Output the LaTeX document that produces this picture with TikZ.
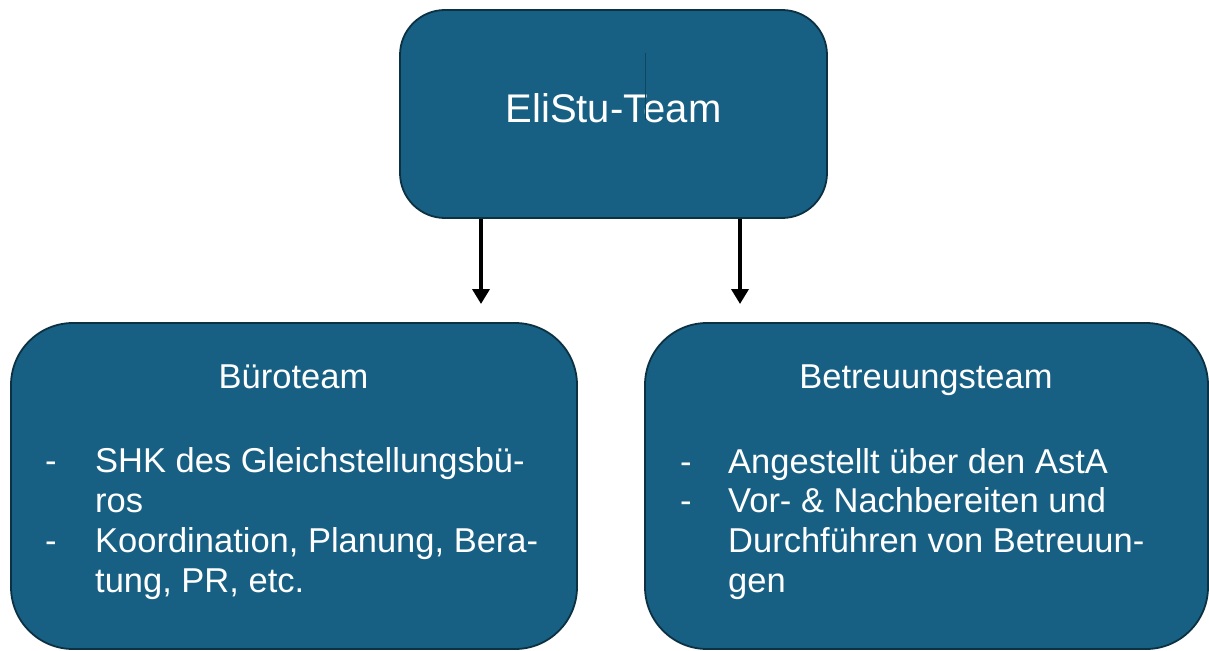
\documentclass[tikz,border=0pt]{standalone}
\usepackage{fontspec}
\setmainfont{Liberation Sans}
\usetikzlibrary{arrows.meta}
\definecolor{boxfill}{HTML}{176084}
\definecolor{boxline}{HTML}{0B3142}
\definecolor{cursor}{HTML}{0E4660}
\tikzset{
  teambox/.style={draw=boxline, line width=1.8pt, fill=boxfill},
  boxtext/.style={inner sep=0pt, text=white, font=\fontsize{34.5}{40}\selectfont},
  conn/.style={line width=3.6pt, -{Triangle[width=17pt,length=15pt]}},
}
\begin{document}
\begin{tikzpicture}[x=1pt,y=-1pt]
\useasboundingbox (0,0) rectangle (1209,650);
\begin{scope}
\clip (0,0) rectangle (1209,650);
% boxes
\draw[teambox, rounded corners=45pt] (400,10) rectangle (827,218);
\draw[teambox, rounded corners=62pt] (11,323) rectangle (577,649);
\draw[teambox, rounded corners=62pt] (645,323) rectangle (1208,649);
\end{scope}
\node[boxtext, anchor=base, font=\fontsize{40}{48}\selectfont] (title) at (613.5,122) {EliStu-Team};
\draw[cursor, line width=0.8pt] (645,53) -- (645,120);
% left box
\node[boxtext, anchor=base] (buero) at (293.5,388) {Büroteam};
\node[boxtext, anchor=base west] (b1) at (45,472) {-};
\node[boxtext, anchor=base west] (b1t) at (95,472) {SHK des Gleichstellungsbü-};
\node[boxtext, anchor=base west] (b1u) at (95,512) {ros};
\node[boxtext, anchor=base west] (b2) at (45,552) {-};
\node[boxtext, anchor=base west] (b2t) at (95,552) {Koordination, Planung, Bera-};
\node[boxtext, anchor=base west] (b2u) at (95,592) {tung, PR, etc.};
% right box
\node[boxtext, anchor=base] (betr) at (926,388) {Betreuungsteam};
\node[boxtext, anchor=base west] (r1) at (680,473) {-};
\node[boxtext, anchor=base west] (r1t) at (728,473) {Angestellt über den AstA};
\node[boxtext, anchor=base west] (r2) at (680,512) {-};
\node[boxtext, anchor=base west] (r2t) at (728,512) {Vor- \& Nachbereiten und};
\node[boxtext, anchor=base west] (r2u) at (728,552) {Durchführen von Betreuun-};
\node[boxtext, anchor=base west] (r2v) at (728,592) {gen};
% connectors
\coordinate (a1s) at (481,219);
\coordinate (a1e) at (481,304);
\coordinate (a2s) at (740,219);
\coordinate (a2e) at (740,304);
\draw[conn] (a1s) -- (a1e);
\draw[conn] (a2s) -- (a2e);
\end{tikzpicture}
\end{document}
